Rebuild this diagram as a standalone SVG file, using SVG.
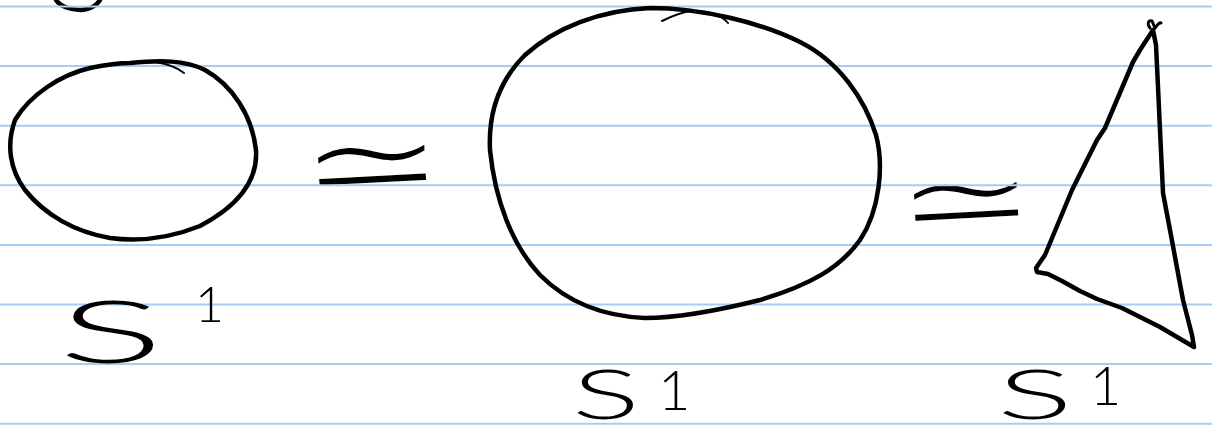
<svg xmlns="http://www.w3.org/2000/svg" width="1212" height="434" viewBox="0 0 1212 434">
<style>
.rule{stroke:#a3cdf6;stroke-width:2;fill:none}
.ink{stroke:#000;stroke-width:4.5;fill:none;stroke-linecap:round;stroke-linejoin:round}
.thin{stroke:#000;stroke-width:2;fill:none;stroke-linecap:round}
.lbl{font-family:"Lato","Open Sans","Liberation Sans",sans-serif;font-weight:300;fill:#000}
.sym{font-family:"DejaVu Sans","Liberation Sans",sans-serif;font-weight:normal;fill:#000;stroke:#fff;stroke-width:6;stroke-linejoin:round}
</style>
<rect width="1212" height="434" fill="#fff"/>
<g id="fragment">
<path class="ink" d="M56,0 C60,6 70,10 80,10 C90,10 97,5 100,0"/>
</g>
<g id="approx-1">
<text class="sym" font-size="180" text-anchor="middle" transform="translate(374 207) rotate(-3) scale(1 0.72)">≃</text>
</g>
<g id="approx-2">
<text class="sym" font-size="174" text-anchor="middle" transform="translate(968 242) rotate(-3) scale(1 0.72)">≃</text>
</g>
<g id="rules">
<line class="rule" x1="0" y1="6.5" x2="1212" y2="6.5"/>
<line class="rule" x1="0" y1="66.1" x2="1212" y2="66.1"/>
<line class="rule" x1="0" y1="125.7" x2="1212" y2="125.7"/>
<line class="rule" x1="0" y1="185.3" x2="1212" y2="185.3"/>
<line class="rule" x1="0" y1="244.9" x2="1212" y2="244.9"/>
<line class="rule" x1="0" y1="304.5" x2="1212" y2="304.5"/>
<line class="rule" x1="0" y1="364.1" x2="1212" y2="364.1"/>
<line class="rule" x1="0" y1="423.7" x2="1212" y2="423.7"/>
</g>
<g id="small-circle">
<path class="ink" d="M130,63 C160,60 185,60 205,70 C232,85 252,115 256,150 C258,180 240,205 200,226 C170,238 140,242 110,238 C75,232 45,215 25,190 C10,170 6,145 15,120 C30,95 60,75 90,68 C105,65 118,63 130,63 Z"/>
<path class="thin" d="M155,62 C168,64 178,68 184,73"/>
</g>
<g id="big-circle">
<path class="ink" d="M650,8 C700,8 760,22 800,42 C840,62 865,100 876,135 C884,165 880,210 860,240 C840,268 810,285 760,300 C720,310 680,318 645,318 C600,316 565,300 540,275 C512,245 495,200 490,150 C488,110 500,80 525,55 C555,28 600,10 650,8 Z"/>
<path class="thin" d="M662,21 C672,16 682,12 692,11 C705,11 720,13 728,23"/>
</g>
<g id="triangle">
<path class="ink" d="M1153,30 L1140,50 L1133,62 L1105,128 L1097,140 L1072,190 L1045,255 L1036,268 L1037,272 L1048,274 L1062,281 L1080,291 L1097,299 L1122,308 L1160,327 L1194,347 L1192,335 L1183,300 L1170,230 L1163,193 L1160,130 L1158,87 L1156,45 L1153,30"/>
<path class="thin" d="M1150,28 C1147,24 1148,20 1152,21 L1155,28 M1155,28 C1158,24 1160,22 1161,23" style="stroke-width:3"/>
</g>
<g id="label-1">
<text class="lbl" x="58" y="363" font-size="86" textLength="106" lengthAdjust="spacingAndGlyphs">S</text>
<text class="lbl" x="195" y="322" font-size="50">1</text>
</g>
<g id="label-2">
<text class="lbl" x="572" y="419" font-size="68" textLength="68" lengthAdjust="spacingAndGlyphs">S</text>
<text class="lbl" x="658" y="410" font-size="56">1</text>
</g>
<g id="label-3">
<text class="lbl" x="997" y="419" font-size="68" textLength="76" lengthAdjust="spacingAndGlyphs">S</text>
<text class="lbl" x="1090" y="405" font-size="54">1</text>
</g>
</svg>
